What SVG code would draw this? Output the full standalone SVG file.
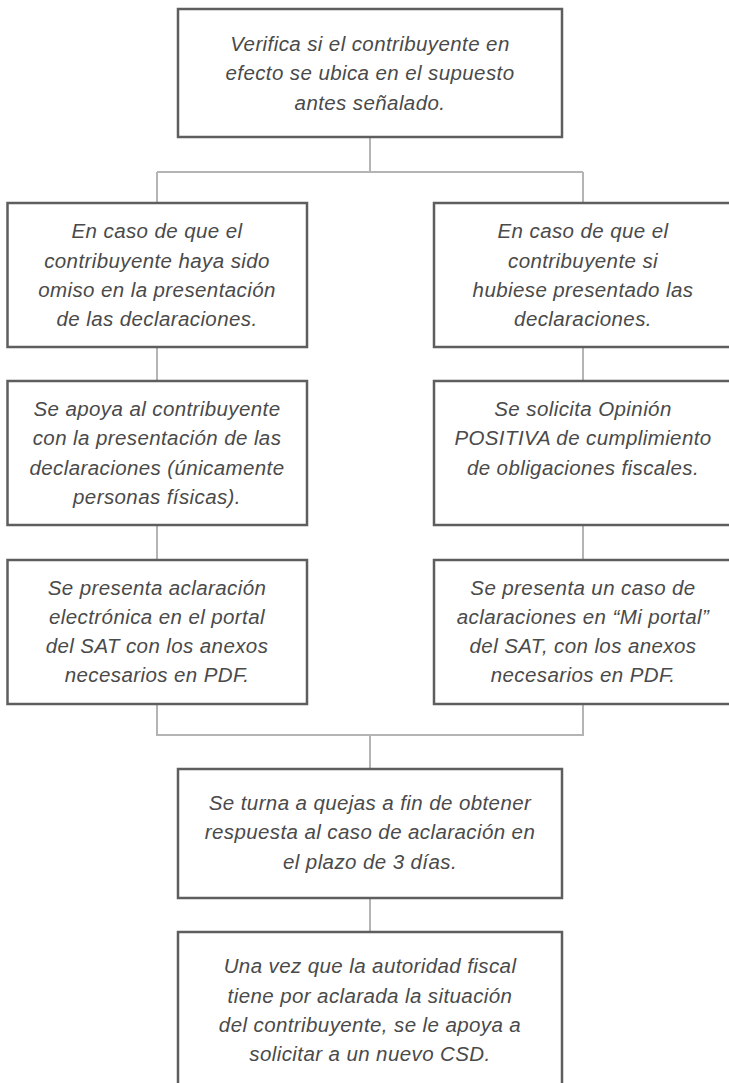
<svg xmlns="http://www.w3.org/2000/svg" width="729" height="1083" viewBox="0 0 729 1083">
<style>
.box{fill:#fff;stroke:#5e5e5e;stroke-width:2.5}
.con{fill:none;stroke:#b4b4b4;stroke-width:2}
text{font-family:"Liberation Sans",Arial,sans-serif;font-style:italic;font-size:20.5px;fill:#4a4a4a;text-anchor:middle;letter-spacing:0.4px}
</style>
<rect width="729" height="1083" fill="#fff"/>
<g id="connectors">
<path class="con" d="M370 137V172M157 172H583M157 172V203M583 172V203"/>
<path class="con" d="M157 347V381M583 347V381M157 525V560M583 525V560"/>
<path class="con" d="M157 704V735H583V704M370 735V769M370 898V932"/>
</g>
<g id="n1">
<rect class="box" x="178" y="9" width="384" height="128"/>
<text x="370" y="50.5">Verifica si el contribuyente en</text>
<text x="370" y="80">efecto se ubica en el supuesto</text>
<text x="370" y="109.5">antes señalado.</text>
</g>
<g id="n2">
<rect class="box" x="7.5" y="203" width="299.5" height="144"/>
<text x="157" y="238.3">En caso de que el</text>
<text x="157" y="267.6">contribuyente haya sido</text>
<text x="157" y="296.9">omiso en la presentación</text>
<text x="157" y="326.2">de las declaraciones.</text>
</g>
<g id="n3">
<rect class="box" x="434" y="203" width="299.5" height="144"/>
<text x="583" y="238.3">En caso de que el</text>
<text x="583" y="267.6">contribuyente si</text>
<text x="583" y="296.9">hubiese presentado las</text>
<text x="583" y="326.2">declaraciones.</text>
</g>
<g id="n4">
<rect class="box" x="7.5" y="381" width="299.5" height="144"/>
<text x="157" y="416">Se apoya al contribuyente</text>
<text x="157" y="445.3">con la presentación de las</text>
<text x="157" y="474.6">declaraciones (únicamente</text>
<text x="157" y="503.9">personas físicas).</text>
</g>
<g id="n5">
<rect class="box" x="434" y="381" width="299.5" height="144"/>
<text x="583" y="416">Se solicita Opinión</text>
<text x="583" y="445.3">POSITIVA de cumplimiento</text>
<text x="583" y="474.6">de obligaciones fiscales.</text>
</g>
<g id="n6">
<rect class="box" x="7.5" y="560" width="299.5" height="144"/>
<text x="157" y="594.5">Se presenta aclaración</text>
<text x="157" y="623.8">electrónica en el portal</text>
<text x="157" y="653.1">del SAT con los anexos</text>
<text x="157" y="682.4">necesarios en PDF.</text>
</g>
<g id="n7">
<rect class="box" x="434" y="560" width="299.5" height="144"/>
<text x="583" y="594.5">Se presenta un caso de</text>
<text x="583" y="623.8">aclaraciones en “Mi portal”</text>
<text x="583" y="653.1">del SAT, con los anexos</text>
<text x="583" y="682.4">necesarios en PDF.</text>
</g>
<g id="n8">
<rect class="box" x="178" y="769" width="384" height="129"/>
<text x="370" y="809.5">Se turna a quejas a fin de obtener</text>
<text x="370" y="839">respuesta al caso de aclaración en</text>
<text x="370" y="868.5">el plazo de 3 días.</text>
</g>
<g id="n9">
<rect class="box" x="178" y="932" width="384" height="170"/>
<text x="370" y="973.3">Una vez que la autoridad fiscal</text>
<text x="370" y="1002.6">tiene por aclarada la situación</text>
<text x="370" y="1031.9">del contribuyente, se le apoya a</text>
<text x="370" y="1061.2">solicitar a un nuevo CSD.</text>
</g>
</svg>
